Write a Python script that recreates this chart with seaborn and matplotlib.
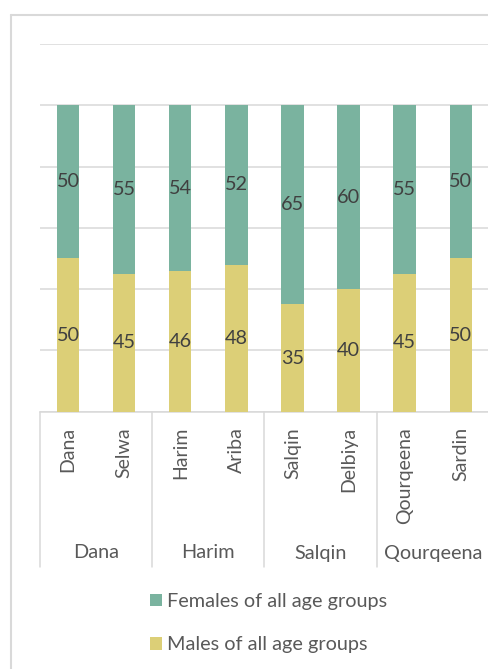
import matplotlib
matplotlib.use("Agg")
import matplotlib.pyplot as plt
import seaborn as sns
import pandas as pd
from matplotlib.lines import Line2D
from matplotlib.patches import Patch
from matplotlib.transforms import blended_transform_factory

# ---- data ----
subdistricts = ["Dana", "Selwa", "Harim", "Ariba", "Salqin", "Delbiya", "Qourqeena", "Sardin"]
districts = ["Dana", "Harim", "Salqin", "Qourqeena"]
males = [50, 45, 46, 48, 35, 40, 45, 50]
females = [50, 55, 54, 52, 65, 60, 55, 50]
series_names = ["Females of all age groups", "Males of all age groups"]
yticks = [0, 20, 40, 60, 80, 100, 120]

GREEN = "#7AB39F"
YELLOW = "#DCCF77"
GRID = "#D9D9D9"
LABEL = "#404040"
AXTXT = "#595959"

sns.set_theme(style="white")
plt.rcParams["font.family"] = ["Lato", "DejaVu Sans"]

W, H, DPI = 489, 669, 100
fig = plt.figure(figsize=(W / DPI, H / DPI), dpi=DPI)

ax_left, ax_right, ax_top, ax_bot = 40, 488.8, 44, 411.7
ax = fig.add_axes([ax_left / W, 1 - ax_bot / H, (ax_right - ax_left) / W, (ax_bot - ax_top) / H])

pos = list(range(len(subdistricts)))
df = pd.DataFrame({"pos": pos, "name": subdistricts, "male": males, "female": females})
df["total"] = df["male"] + df["female"]

sns.barplot(data=df, x="pos", y="total", color=GREEN, width=0.4, saturation=1,
            ax=ax, order=pos, zorder=3, edgecolor="none")
sns.barplot(data=df, x="pos", y="male", color=YELLOW, width=0.4, saturation=1,
            ax=ax, order=pos, zorder=4, edgecolor="none")

ax.set_ylim(0, 120)
ax.set_xlim(-0.5, len(pos) - 0.5)
ax.set_yticks(yticks)
ax.yaxis.grid(True, color=GRID, linewidth=1.1, zorder=0)
ax.set_axisbelow(True)
ax.tick_params(axis="y", left=False, labelleft=False)
for s in ["top", "right", "left"]:
    ax.spines[s].set_visible(False)
ax.spines["bottom"].set_color(GRID)
ax.spines["bottom"].set_linewidth(1.1)
ax.set_xlabel("")
ax.set_ylabel("")

# value labels
for i in pos:
    ax.text(i, males[i] / 2, str(males[i]), ha="center", va="center",
            fontsize=14.3, color=LABEL, zorder=5)
    ax.text(i, males[i] + females[i] / 2, str(females[i]), ha="center", va="center",
            fontsize=14.3, color=LABEL, zorder=5)

# subdistrict tick labels
ax.set_xticks(pos)
ax.set_xticklabels(subdistricts, rotation=90, fontsize=14, color=AXTXT)
ax.tick_params(axis="x", length=0, pad=11)

# group separators and district labels
tr = blended_transform_factory(ax.transData, fig.transFigure)
y_top = 1 - ax_bot / H
y_low = 1 - 566.7 / H
for xsep in [-0.5, 1.5, 3.5, 5.5, 7.5]:
    fig.add_artist(Line2D([xsep, xsep], [y_top, y_low], transform=tr,
                          color=GRID, linewidth=1.1, clip_on=False))
for k, d in enumerate(districts):
    fig.text(2 * k + 0.5, 1 - 553 / H, d, transform=tr, ha="center", va="center",
             fontsize=14.3, color=AXTXT)

# chart frame
fig.add_artist(Line2D([10.5 / W, 10.5 / W], [0, 1 - 15 / H], color=GRID, linewidth=1.5))
fig.add_artist(Line2D([10.5 / W, 1.0], [1 - 15 / H, 1 - 15 / H], color=GRID, linewidth=1.5))

# legend
handles = [Patch(facecolor=GREEN, edgecolor="none"), Patch(facecolor=YELLOW, edgecolor="none")]
leg = fig.legend(handles, series_names, loc="upper left",
                 bbox_to_anchor=(150 / W, 1 - 593 / H), frameon=False,
                 fontsize=14.3, handlelength=0.6, handleheight=0.6,
                 handletextpad=0.28, labelspacing=1.32, borderpad=0, borderaxespad=0)
for t in leg.get_texts():
    t.set_color(AXTXT)

fig.savefig("out.png", dpi=DPI)
